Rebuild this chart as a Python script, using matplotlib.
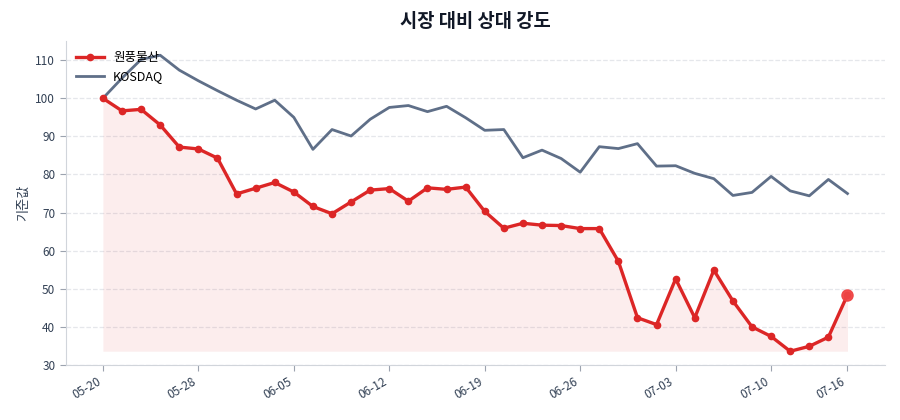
import matplotlib
matplotlib.use("Agg")
import matplotlib.pyplot as plt
import numpy as np

plt.rcParams['font.family'] = ['Noto Sans CJK KR', 'DejaVu Sans']

# trading days (labels shown every 5th point + last)
dates = ['05-20', '05-21', '05-22', '05-23', '05-24', '05-28', '05-29', '05-30',
         '05-31', '06-03', '06-05', '06-06', '06-07', '06-10', '06-11', '06-12',
         '06-13', '06-14', '06-17', '06-18', '06-19', '06-20', '06-21', '06-24',
         '06-25', '06-26', '06-27', '06-28', '07-01', '07-02', '07-03', '07-04',
         '07-05', '07-08', '07-09', '07-10', '07-11', '07-12', '07-15', '07-16']

# rebased to 100 at the first day
stock = [100.0, 96.7, 97.1, 93.0, 87.2, 86.7, 84.3, 74.9, 76.4, 77.9,
         75.4, 71.6, 69.7, 72.8, 75.9, 76.3, 73.0, 76.5, 76.1, 76.7,
         70.3, 65.9, 67.2, 66.7, 66.6, 65.8, 65.8, 57.2, 42.4, 40.6,
         52.6, 42.4, 54.9, 46.8, 40.0, 37.5, 33.6, 34.9, 37.3, 48.4]
kosdaq = [100.0, 105.3, 110.2, 111.3, 107.4, 104.6, 102.0, 99.5, 97.2, 99.5,
          95.0, 86.6, 91.8, 90.1, 94.5, 97.6, 98.1, 96.5, 97.9, 94.9,
          91.6, 91.8, 84.4, 86.4, 84.2, 80.6, 87.3, 86.8, 88.1, 82.2,
          82.3, 80.3, 78.9, 74.5, 75.3, 79.5, 75.7, 74.4, 78.7, 75.0]

stock_name = '원풍물산'
red = '#dc2626'
slate = '#5f6f88'
text_col = '#334155'

x = np.arange(len(dates))
tick_idx = list(range(0, len(dates), 5)) + [len(dates) - 1]

fig = plt.figure(figsize=(9, 4.2), dpi=100)
ax = fig.add_axes([0.073, 0.131, 0.910, 0.771])

ax.fill_between(x, stock, min(stock), color=red, alpha=0.08, linewidth=0)
ax.plot(x, stock, color=red, linewidth=2.4, marker='o', markersize=4.5, label=stock_name, zorder=3)
ax.plot(x, kosdaq, color=slate, linewidth=2.0, label='KOSDAQ', zorder=2)
ax.plot(x[-1], stock[-1], 'o', color='#ef4444', markersize=8, zorder=4, alpha=0.95)

ax.set_ylim(30, 115)
ax.set_yticks(range(30, 111, 10))
ax.set_xticks(tick_idx)
ax.set_xticklabels([dates[i] for i in tick_idx], rotation=30, ha='right')
ax.grid(axis='y', linestyle='--', color='#e5e7eb', linewidth=0.9)
ax.set_axisbelow(True)

for s in ['top', 'right']:
    ax.spines[s].set_visible(False)
for s in ['left', 'bottom']:
    ax.spines[s].set_color('#d1d5db')
ax.tick_params(colors=text_col, labelsize=8.5, length=4)
ax.tick_params(axis='both', color='#9ca3af')

ax.set_ylabel('기준값', fontsize=9.5, color=text_col)
ax.set_title('시장 대비 상대 강도', fontsize=13.5, fontweight='bold', color='#111827', pad=10)
ax.legend(loc='upper left', frameon=False, fontsize=9, borderaxespad=0.4,
          handlelength=2.3, handletextpad=0.7)

fig.savefig('out.png', dpi=100)
